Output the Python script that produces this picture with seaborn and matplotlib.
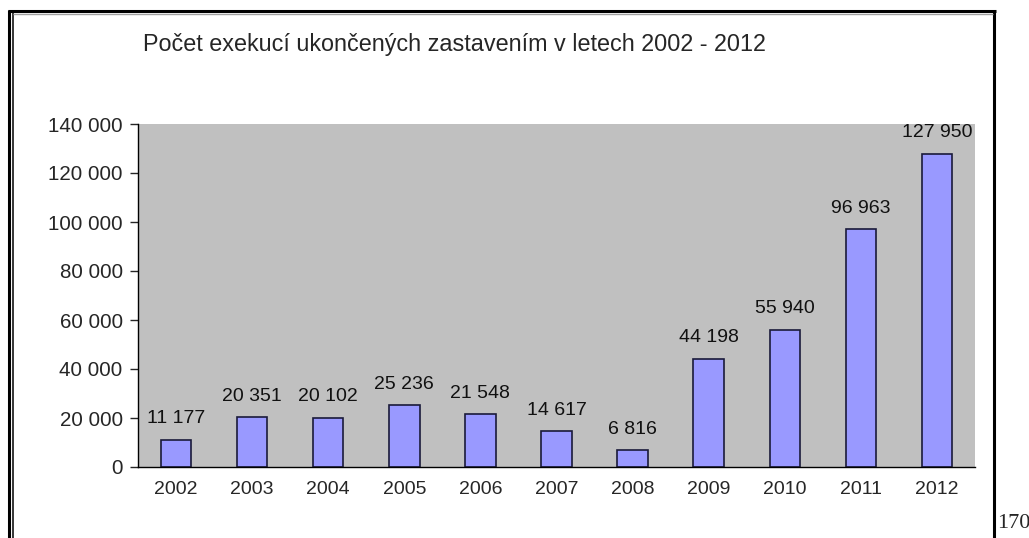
import numpy as np
import pandas as pd
import seaborn as sns
import matplotlib.pyplot as plt
from matplotlib.lines import Line2D
from matplotlib.ticker import FuncFormatter

roky = ["2002", "2003", "2004", "2005", "2006", "2007", "2008", "2009", "2010", "2011", "2012"]
pocty = [11177, 20351, 20102, 25236, 21548, 14617, 6816, 44198, 55940, 96963, 127950]
titulek = "Počet exekucí ukončených zastavením v letech 2002 - 2012"

df = pd.DataFrame({"Rok": roky, "Počet": pocty})

sns.set_style("white")
plt.rcParams["font.family"] = ["Liberation Sans", "DejaVu Sans"]

W, H = 1029, 538
fig = plt.figure(figsize=(W / 100, H / 100), dpi=100)
ax = fig.add_axes([138 / W, 1 - 467 / H, (975 - 138) / W, (467 - 124) / H])
ax.set_facecolor("#C0C0C0")

sns.barplot(data=df, x="Rok", y="Počet", color="#9999FF", saturation=1,
            edgecolor="#1A1A3A", linewidth=1.2, width=0.4, ax=ax)

def mezera(v):
    return "{:,}".format(int(v)).replace(",", " ")

ax.bar_label(ax.containers[0], labels=[mezera(v) for v in pocty],
             padding=9, fontsize=14, color="#111111")

ax.set_ylim(0, 140000)
ax.set_xlim(-0.5, len(roky) - 0.5)
ax.set_yticks(np.arange(0, 140001, 20000))
ax.yaxis.set_major_formatter(FuncFormatter(lambda v, p: mezera(v)))
ax.set_xticks(np.arange(-0.5, len(roky), 1), minor=True)
ax.tick_params(axis="x", which="major", length=0, pad=10, labelsize=14)
ax.tick_params(axis="x", which="minor", length=6, width=1, direction="out", color="black")
ax.tick_params(axis="y", length=6, width=1, direction="out", left=True, pad=5, labelsize=14.8)
ax.set_xlabel("")
ax.set_ylabel("")
for s in ["top", "right"]:
    ax.spines[s].set_visible(False)
for s in ["left", "bottom"]:
    ax.spines[s].set_color("black")
    ax.spines[s].set_linewidth(1)

fig.text(143 / W, 1 - 45 / H, titulek, fontsize=16.8, va="center", ha="left")
fig.text(997 / W, 1 - 528 / H, "170", fontsize=16, family=["Liberation Serif"],
         va="baseline", ha="left")

def cara(x0, y0, x1, y1, lw, c="black"):
    fig.add_artist(Line2D([x0 / W, x1 / W], [1 - y0 / H, 1 - y1 / H],
                          transform=fig.transFigure, color=c, linewidth=lw,
                          solid_capstyle="butt"))

cara(9, 9.5, 9, 540, 2.2)
cara(12.8, 12.5, 12.8, 540, 1.1)
cara(7.5, 11, 995.5, 11, 2.2)
cara(994, 9.5, 994, 540, 2.2)
cara(13, 13.5, 992.5, 13.5, 1, "#A0A0A0")

fig.savefig("out.png", dpi=100)
